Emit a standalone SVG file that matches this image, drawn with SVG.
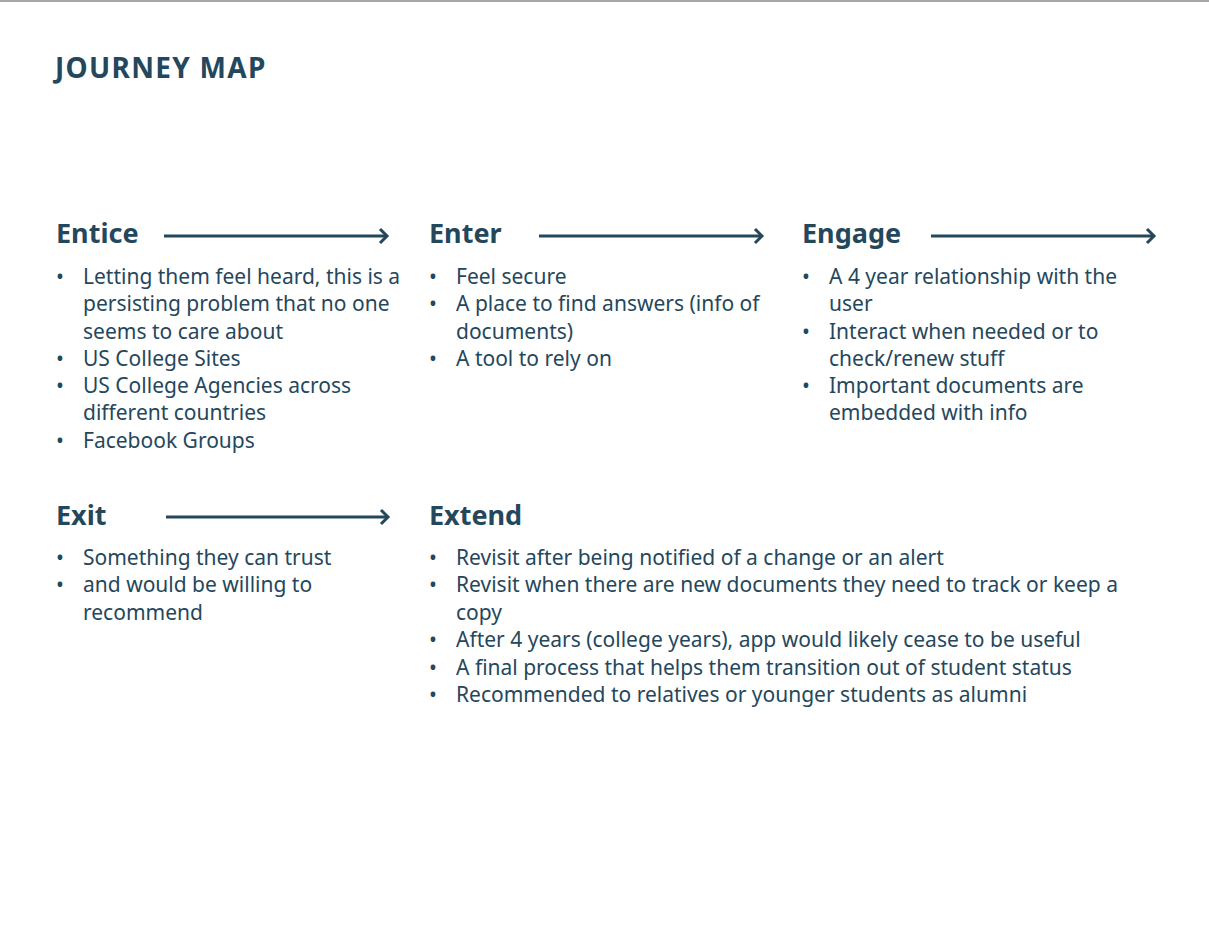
<svg xmlns="http://www.w3.org/2000/svg" width="1209" height="936" viewBox="0 0 1209 936">
<defs>
<style>
text{fill:#25475c;font-family:"Noto Sans","Liberation Sans",sans-serif}
.t{font-size:28px;font-weight:bold;letter-spacing:1.3px}
.h{font-size:27px;font-weight:bold}
.b{font-size:21px}
.conn line{stroke:#25475c;stroke-width:3}
.conn polyline{fill:none;stroke:#25475c;stroke-width:3}
</style>
</defs>
<rect x="0" y="0" width="1209" height="936" fill="#ffffff"/>
<rect x="0" y="0" width="1209" height="2" fill="#a6a6a6"/>
<text class="t" x="55" y="78">JOURNEY MAP</text>
<g class="conn" id="connectors">
<line x1="164" y1="236" x2="387" y2="236"/><polyline points="380,229 387,236 380,243"/>
<line x1="539" y1="236" x2="762" y2="236"/><polyline points="755,229 762,236 755,243"/>
<line x1="931" y1="236" x2="1154" y2="236"/><polyline points="1147,229 1154,236 1147,243"/>
<line x1="166" y1="517" x2="388" y2="517"/><polyline points="381,510 388,517 381,524"/>
</g>
<g id="entice">
<text class="h" x="56" y="243">Entice</text>
<text class="b"><tspan x="56" y="284">•</tspan><tspan x="83" y="284">Letting them feel heard, this is a</tspan><tspan x="83" y="311">persisting problem that no one</tspan><tspan x="83" y="339">seems to care about</tspan><tspan x="56" y="366">•</tspan><tspan x="83" y="366">US College Sites</tspan><tspan x="56" y="393">•</tspan><tspan x="83" y="393">US College Agencies across</tspan><tspan x="83" y="420">different countries</tspan><tspan x="56" y="448">•</tspan><tspan x="83" y="448">Facebook Groups</tspan></text>
</g>
<g id="enter">
<text class="h" x="429" y="243">Enter</text>
<text class="b"><tspan x="429" y="284">•</tspan><tspan x="456" y="284">Feel secure</tspan><tspan x="429" y="311">•</tspan><tspan x="456" y="311">A place to find answers (info of</tspan><tspan x="456" y="339">documents)</tspan><tspan x="429" y="366">•</tspan><tspan x="456" y="366">A tool to rely on</tspan></text>
</g>
<g id="engage">
<text class="h" x="802" y="243">Engage</text>
<text class="b"><tspan x="802" y="284">•</tspan><tspan x="829" y="284">A 4 year relationship with the</tspan><tspan x="829" y="311">user</tspan><tspan x="802" y="339">•</tspan><tspan x="829" y="339">Interact when needed or to</tspan><tspan x="829" y="366">check/renew stuff</tspan><tspan x="802" y="393">•</tspan><tspan x="829" y="393">Important documents are</tspan><tspan x="829" y="420">embedded with info</tspan></text>
</g>
<g id="exit">
<text class="h" x="56" y="525">Exit</text>
<text class="b"><tspan x="56" y="565">•</tspan><tspan x="83" y="565">Something they can trust</tspan><tspan x="56" y="592">•</tspan><tspan x="83" y="592">and would be willing to</tspan><tspan x="83" y="620">recommend</tspan></text>
</g>
<g id="extend">
<text class="h" x="429" y="525">Extend</text>
<text class="b"><tspan x="429" y="565">•</tspan><tspan x="456" y="565">Revisit after being notified of a change or an alert</tspan><tspan x="429" y="592">•</tspan><tspan x="456" y="592">Revisit when there are new documents they need to track or keep a</tspan><tspan x="456" y="620">copy</tspan><tspan x="429" y="647">•</tspan><tspan x="456" y="647">After 4 years (college years), app would likely cease to be useful</tspan><tspan x="429" y="675">•</tspan><tspan x="456" y="675">A final process that helps them transition out of student status</tspan><tspan x="429" y="702">•</tspan><tspan x="456" y="702">Recommended to relatives or younger students as alumni</tspan></text>
</g>
</svg>
